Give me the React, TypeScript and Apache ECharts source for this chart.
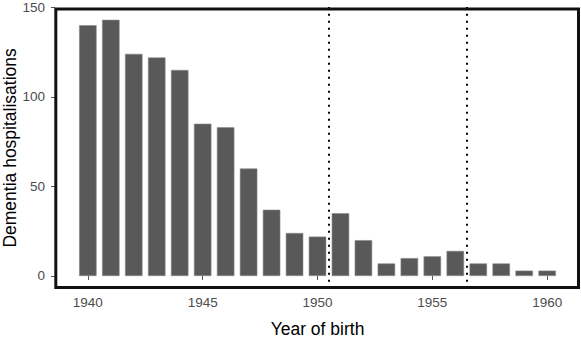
import React, { useEffect, useRef } from "react";
import * as echarts from "echarts";

const years = [1940, 1941, 1942, 1943, 1944, 1945, 1946, 1947, 1948, 1949, 1950, 1951, 1952, 1953, 1954, 1955, 1956, 1957, 1958, 1959, 1960];
const hospitalisations = [140, 143, 124, 122, 115, 85, 83, 60, 37, 24, 22, 35, 20, 7, 10, 11, 14, 7, 7, 3, 3];
const xTickValues = [1940, 1945, 1950, 1955, 1960];
const yTickValues = [0, 50, 100, 150];
const cutoffYears = [1950.5, 1956.5];

const FONT = "'Liberation Sans', Arial, Helvetica, sans-serif";

export default function App() {
  const ref = useRef<HTMLDivElement>(null);
  useEffect(() => {
    if (!ref.current) return;
    const chart = echarts.init(ref.current, null, { renderer: "svg" });
    chart.setOption({
      animation: false,
      backgroundColor: "#ffffff",
      grid: { left: 55, right: 1, top: 7, bottom: 60.2, containLabel: false, outerBoundsMode: "none" },
      xAxis: {
        type: "value",
        min: 1938.57,
        max: 1961.43,
        name: "Year of birth",
        nameLocation: "middle",
        nameGap: 31,
        nameMoveOverlap: false,
        nameTextStyle: { color: "#000", fontSize: 17.5, fontFamily: FONT },
        axisLine: { show: false },
        splitLine: { show: false },
        axisTick: { show: true, length: 4, customValues: xTickValues, lineStyle: { color: "#555", width: 1 } },
        axisLabel: { show: true, customValues: xTickValues, margin: 7, color: "#4d4d4d", fontSize: 13.5, fontFamily: FONT, formatter: (v: number) => String(v) },
      },
      yAxis: {
        type: "value",
        min: -7.15,
        max: 150.15,
        name: "Dementia hospitalisations",
        nameLocation: "middle",
        nameGap: 36,
        nameMoveOverlap: false,
        nameTextStyle: { color: "#000", fontSize: 17.5, fontFamily: FONT },
        axisLine: { show: false },
        splitLine: { show: false },
        axisTick: { show: true, length: 4, customValues: yTickValues, lineStyle: { color: "#555", width: 1 } },
        axisLabel: { show: true, customValues: yTickValues, margin: 10, color: "#4d4d4d", fontSize: 13.5, fontFamily: FONT, formatter: (v: number) => String(v) },
      },
      series: [
        {
          type: "bar",
          data: years.map((y, i) => [y, hospitalisations[i]]),
          barWidth: 17.5,
          itemStyle: { color: "#595959", borderColor: "#8a8a8a", borderWidth: 0.6 },
          silent: true,
          markLine: {
            silent: true,
            symbol: "none",
            label: { show: false },
            lineStyle: { color: "#000", width: 2, type: [2, 5], cap: "butt" },
            data: cutoffYears.map((x) => ({ xAxis: x })),
          },
        },
      ],
      graphic: [
        {
          type: "rect",
          shape: { x: 55.8, y: 9, width: 522.7, height: 278.5 },
          style: { fill: "none", stroke: "#111", lineWidth: 3 },
          z: 100,
          silent: true,
        },
      ],
    });
    return () => chart.dispose();
  }, []);
  return <div ref={ref} style={{ position: "fixed", left: 0, top: 0, width: 581, height: 349 }} />;
}
